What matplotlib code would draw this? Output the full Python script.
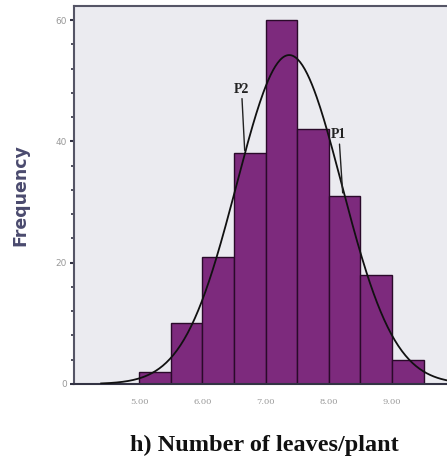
import numpy as np
import matplotlib
matplotlib.use('Agg')
import matplotlib.pyplot as plt
from matplotlib.ticker import MultipleLocator

# histogram: bin edges and counts
bin_edges = [5.0, 5.5, 6.0, 6.5, 7.0, 7.5, 8.0, 8.5, 9.0, 9.5]
counts = [2, 10, 21, 38, 60, 42, 31, 18, 4]
tick_values = [5.0, 6.0, 7.0, 8.0, 9.0]
tick_labels = ['5.00', '6.00', '7.00', '8.00', '9.00']
ytick_values = [0, 20, 40, 60]

# fitted normal curve from the binned data
mids = [(a + b) / 2 for a, b in zip(bin_edges[:-1], bin_edges[1:])]
n = sum(counts)
mean = sum(m * c for m, c in zip(mids, counts)) / n
sd = np.sqrt(sum(c * (m - mean) ** 2 for m, c in zip(mids, counts)) / (n - 1))
width = bin_edges[1] - bin_edges[0]
xs = np.linspace(4.4, 10.0, 300)
ys = n * width * np.exp(-0.5 * ((xs - mean) / sd) ** 2) / (sd * np.sqrt(2 * np.pi))

fig = plt.figure(figsize=(4.47, 4.66), dpi=100)
ax = fig.add_axes([0.1655, 0.176, 0.8345, 0.811])
ax.set_facecolor('#ebebf0')

ax.bar(bin_edges[:-1], counts, width=width, align='edge',
       color='#7d2a7d', edgecolor='#2a0a2a', linewidth=1.0, zorder=2)
ax.plot(xs, ys, color='#111111', linewidth=1.3, zorder=3)

ax.set_xlim(3.97, 9.87)
ax.set_ylim(0, 62.3)

ax.set_xticks(tick_values)
ax.set_xticklabels(tick_labels, fontsize=6, color='#999999', family='DejaVu Serif')
ax.tick_params(axis='x', length=0, pad=10)
ax.set_yticks(ytick_values)
ax.yaxis.set_minor_locator(MultipleLocator(4))
ax.tick_params(axis='y', which='major', length=3, width=1.5, color='#333344',
               labelsize=6.5, labelcolor='#999999', pad=2)
ax.tick_params(axis='y', which='minor', length=2, width=1.2, color='#333344')

for s in ['top', 'left']:
    ax.spines[s].set_color('#555566')
    ax.spines[s].set_linewidth(1.5)
ax.spines['bottom'].set_color('#333344')
ax.spines['bottom'].set_linewidth(1.5)
ax.spines['right'].set_visible(False)

ax.set_ylabel('Frequency', fontsize=12.5, fontweight='bold', color='#4a4a6e', labelpad=19)
ax.set_xlabel('h) Number of leaves/plant', fontsize=17.5, fontweight='bold',
              family='Liberation Serif', color='#111111')
ax.xaxis.set_label_coords(0.51, -0.135)

# P1 / P2 markers
ax.annotate('P2', xy=(6.67, 38.5), xytext=(6.62, 47.5), fontsize=10, fontweight='bold',
            family='Liberation Serif', ha='center', va='bottom', color='#222222',
            arrowprops=dict(arrowstyle='-', color='#222222', lw=1.0, shrinkA=0, shrinkB=0))
ax.annotate('P1', xy=(8.22, 31.5), xytext=(8.16, 40.0), fontsize=10, fontweight='bold',
            family='Liberation Serif', ha='center', va='bottom', color='#222222',
            arrowprops=dict(arrowstyle='-', color='#222222', lw=1.0, shrinkA=0, shrinkB=0))

fig.savefig('out.png', dpi=100)
